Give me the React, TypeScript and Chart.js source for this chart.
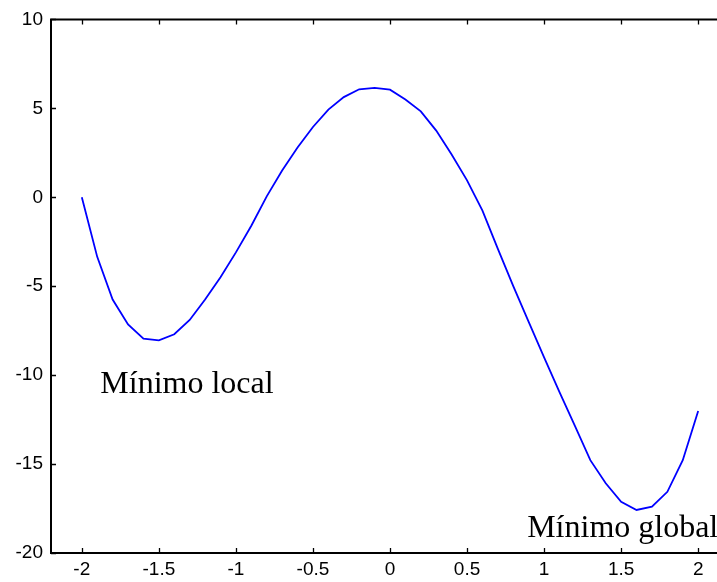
import React, { useEffect, useRef } from "react";
import { Chart, registerables } from "chart.js";

Chart.register(...registerables);

const xValues = [
  -2.0, -1.9, -1.8, -1.7, -1.6, -1.5, -1.4, -1.3, -1.2, -1.1, -1.0,
  -0.9, -0.8, -0.7, -0.6, -0.5, -0.4, -0.3, -0.2, -0.1, 0.0,
  0.1, 0.2, 0.3, 0.4, 0.5, 0.6, 0.7, 0.8, 0.9, 1.0,
  1.1, 1.2, 1.3, 1.4, 1.5, 1.6, 1.7, 1.8, 1.9, 2.0,
];
const yValues = [
  0.0, -3.35, -5.75, -7.15, -7.95, -8.05, -7.7, -6.9, -5.75, -4.5, -3.1,
  -1.6, 0.05, 1.5, 2.8, 3.95, 4.93, 5.63, 6.07, 6.15, 6.05,
  5.5, 4.83, 3.75, 2.4, 0.95, -0.75, -2.9, -5.0, -7.0, -9.0,
  -10.95, -12.85, -14.78, -16.08, -17.12, -17.58, -17.4, -16.56, -14.78, -12.02,
];
const xTicks = [-2, -1.5, -1, -0.5, 0, 0.5, 1, 1.5, 2];
const yTicks = [-20, -15, -10, -5, 0, 5, 10];
const xLimits = [-2.2, 2.2];
const yLimits = [-20, 10];
const annotationTexts = ["Mínimo local", "Mínimo global"];
const annotationX = [-1.88, 0.89];
const annotationY = [-11.0, -19.08];

const boxPlugin = {
  id: "matlabBox",
  afterDraw(chart: any) {
    const { ctx, chartArea, scales } = chart;
    const xs = scales.x;
    const ys = scales.y;
    const { left, right, top, bottom } = chartArea;
    ctx.save();
    ctx.strokeStyle = "#000";
    ctx.lineWidth = 2;
    ctx.beginPath();
    ctx.rect(left, top, right - left, bottom - top);
    ctx.stroke();
    const tl = 5;
    ctx.beginPath();
    for (const v of xTicks) {
      const px = Math.round(xs.getPixelForValue(v)) + 0.5;
      ctx.moveTo(px, bottom);
      ctx.lineTo(px, bottom - tl);
      ctx.moveTo(px, top);
      ctx.lineTo(px, top + tl);
    }
    for (const v of yTicks) {
      const py = Math.round(ys.getPixelForValue(v)) + 0.5;
      ctx.moveTo(left, py);
      ctx.lineTo(left + tl, py);
      ctx.moveTo(right, py);
      ctx.lineTo(right - tl, py);
    }
    ctx.lineWidth = 1.3;
    ctx.stroke();
    ctx.fillStyle = "#000";
    ctx.font = '32px "Liberation Serif", "Times New Roman", serif';
    ctx.textAlign = "left";
    ctx.textBaseline = "alphabetic";
    annotationTexts.forEach((t, i) => {
      ctx.fillText(t, xs.getPixelForValue(annotationX[i]), ys.getPixelForValue(annotationY[i]));
    });
    ctx.restore();
  },
};

export default function App() {
  const ref = useRef<HTMLCanvasElement | null>(null);
  useEffect(() => {
    if (!ref.current) return;
    const chart = new Chart(ref.current, {
      type: "line",
      data: {
        datasets: [
          {
            data: xValues.map((x, i) => ({ x, y: yValues[i] })),
            borderColor: "#0000ff",
            borderWidth: 1.8,
            pointRadius: 0,
            tension: 0,
            fill: false,
          },
        ],
      },
      options: {
        animation: false,
        responsive: false,
        devicePixelRatio: 1,
        layout: { padding: { left: 0, right: 11, top: 19, bottom: 0 } },
        plugins: { legend: { display: false }, tooltip: { enabled: false } },
        scales: {
          x: {
            type: "linear",
            min: xLimits[0],
            max: xLimits[1],
            grid: { display: false, drawTicks: false },
            border: { display: false },
            afterBuildTicks: (s: any) => {
              s.ticks = xTicks.map((v) => ({ value: v }));
            },
            afterFit: (s: any) => {
              s.height = 29;
            },
            ticks: {
              autoSkip: false,
              maxRotation: 0,
              padding: 5,
              color: "#000",
              font: { family: '"Liberation Sans", Arial, sans-serif', size: 19 },
              callback: (v: any) => String(v),
            },
          },
          y: {
            type: "linear",
            min: yLimits[0],
            max: yLimits[1],
            grid: { display: false, drawTicks: false },
            border: { display: false },
            afterBuildTicks: (s: any) => {
              s.ticks = yTicks.map((v) => ({ value: v }));
            },
            afterFit: (s: any) => {
              s.width = 51;
            },
            ticks: {
              autoSkip: false,
              padding: 8,
              color: "#000",
              font: { family: '"Liberation Sans", Arial, sans-serif', size: 19 },
              callback: (v: any) => String(v),
            },
          },
        },
      },
      plugins: [boxPlugin],
    });
    return () => chart.destroy();
  }, []);
  return (
    <div style={{ position: "absolute", left: 0, top: 0, width: 717, height: 582, overflow: "hidden", background: "#fff" }}>
      <canvas ref={ref} width={740} height={582} style={{ display: "block" }} />
    </div>
  );
}
